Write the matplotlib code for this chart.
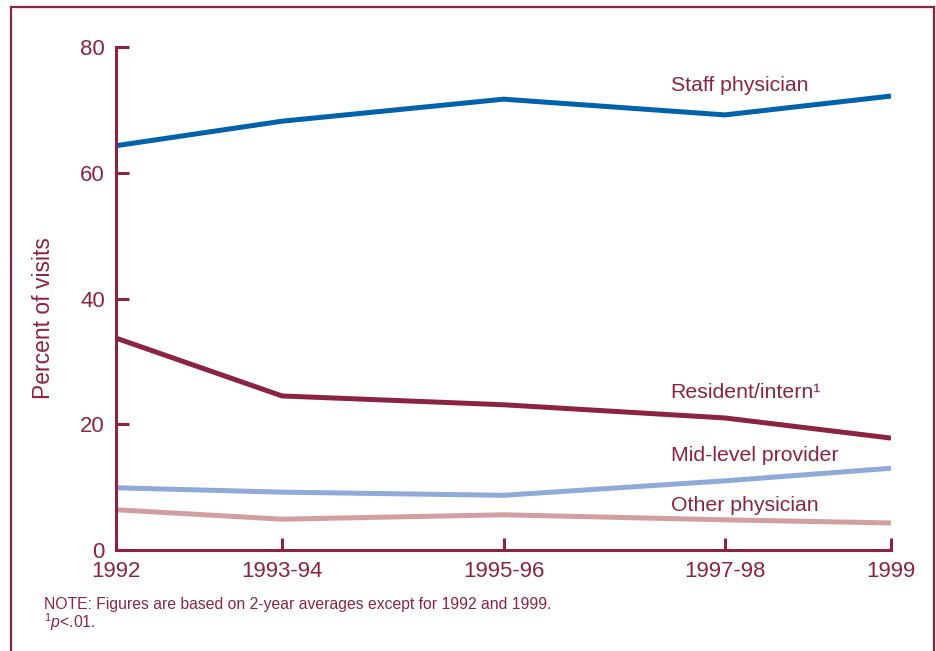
import matplotlib
matplotlib.use("Agg")
import matplotlib.pyplot as plt
from matplotlib.patches import Rectangle

plt.rcParams['font.family'] = ['Liberation Sans', 'DejaVu Sans']
plt.rcParams['mathtext.fontset'] = 'custom'
plt.rcParams['mathtext.rm'] = 'Liberation Sans'
plt.rcParams['mathtext.it'] = 'Liberation Sans:italic'

# years (2-year periods placed at their midpoint)
years = [1992, 1993.5, 1995.5, 1997.5, 1999]
year_labels = ['1992', '1993-94', '1995-96', '1997-98', '1999']

staff = [64.3, 68.2, 71.7, 69.2, 72.2]
resident = [33.7, 24.5, 23.1, 21.0, 17.8]
midlevel = [9.9, 9.2, 8.7, 11.0, 13.0]
other = [6.4, 4.9, 5.6, 4.8, 4.3]

maroon = '#8B2442'

fig = plt.figure(figsize=(9.36, 6.51), dpi=100)
ax = fig.add_axes([116/936, 1-550/651, (891-116)/936, (550-47)/651])

lw = 3.6
ax.plot(years, staff, color='#0062AA', lw=lw, solid_capstyle='butt', solid_joinstyle='miter')
ax.plot(years, resident, color='#8B2442', lw=lw, solid_capstyle='butt', solid_joinstyle='miter')
ax.plot(years, midlevel, color='#90A9D9', lw=lw, solid_capstyle='butt', solid_joinstyle='miter')
ax.plot(years, other, color='#D29EA2', lw=lw, solid_capstyle='butt', solid_joinstyle='miter')

# line labels
fs = 15.3
ax.text(1997.01, 73.8, 'Staff physician', color=maroon, fontsize=fs, va='center')
ax.text(1997.01, 25.0, 'Resident/intern\u00b9', color=maroon, fontsize=fs, va='center')
ax.text(1997.01, 15.0, 'Mid-level provider', color=maroon, fontsize=fs, va='center')
ax.text(1997.01, 7.0, 'Other physician', color=maroon, fontsize=fs, va='center')

ax.set_xlim(1992, 1999)
ax.set_ylim(0, 80)
ax.set_xticks(years)
ax.set_xticklabels(year_labels)
ax.set_yticks([0, 20, 40, 60, 80])
for s in ['top', 'right']:
    ax.spines[s].set_visible(False)
for s in ['left', 'bottom']:
    ax.spines[s].set_color(maroon)
    ax.spines[s].set_linewidth(2.2)
ax.tick_params(direction='in', length=9, width=2.2, color=maroon,
               labelcolor=maroon, labelsize=16, pad=8)
ax.patch.set_alpha(0)

fig.text(44/936, 1-318/651, 'Percent of visits', rotation=90, color=maroon,
         fontsize=16.5, ha='center', va='center')

fig.text(44/936, 1-604/651,
         'NOTE: Figures are based on 2-year averages except for 1992 and 1999.',
         color=maroon, fontsize=11.3, va='center')
fig.text(44/936, 1-622/651, r'$^1\mathit{p}$<.01.', color=maroon,
         fontsize=11.3, va='center')

# frame around the figure
fig.patches.append(Rectangle((11/936, -0.02), (934-11)/936, 1.02-7/651,
                             transform=fig.transFigure, fill=False,
                             edgecolor=maroon, lw=1.6))

fig.savefig('out.png', dpi=100)
